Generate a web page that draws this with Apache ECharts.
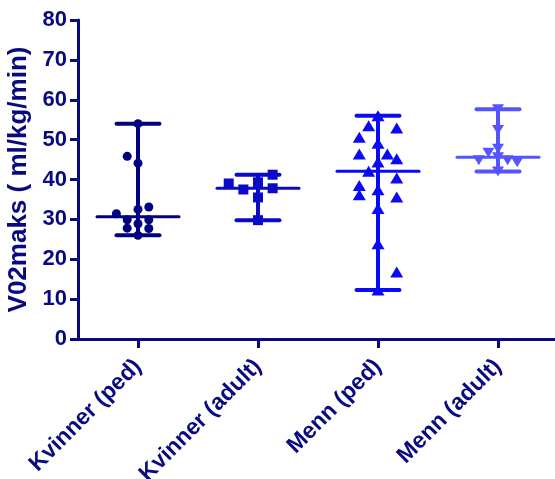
<!DOCTYPE html>
<html>
<head>
<meta charset="utf-8">
<script src="https://cdn.jsdelivr.net/npm/echarts@6/dist/echarts.min.js"></script>
<style>html,body{margin:0;padding:0;background:#fff}#c{width:555px;height:479px}</style>
</head>
<body>
<div id="c"></div>
<script>
// ---- data ----
const categories = ['Kvinner (ped)', 'Kvinner (adult)', 'Menn (ped)', 'Menn (adult)'];
const yTicks = [0, 10, 20, 30, 40, 50, 60, 70, 80];
const yTitle = 'V02maks ( ml/kg/min)';

const kvinnerPed = [54, 45.8, 44.1, 33.1, 32.5, 31.4, 29.9, 29.9, 28.9, 27.8, 27.7, 26];
const kvinnerPedSlot = [0, -1, 0, 1, 0, -2, -1, 1, 0, -1, 1, 0];

const kvinnerAdult = [41.2, 39.3, 39.0, 37.8, 37.5, 35.5, 29.8];
const kvinnerAdultSlot = [1, 0, -2, 1, -1, 0, 0];

const mennPed = [56, 53.5, 52.9, 50.6, 49.1, 46.4, 46.4, 45.2, 44.4, 42.1, 40.4, 38.5, 37.4, 36.2, 35.6, 32.7, 23.9, 16.8, 12.3];
const mennPedSlot = [0, -1, 2, -2, 0, -2, 1, 2, 0, -1, 2, -2, 0, -2, 2, 0, 0, 2, 0];

const mennAdult = [57.6, 52.4, 47.7, 46.7, 45.6, 44.8, 44.8, 44.3, 42];
const mennAdultSlot = [0, 0, 0, -1, 0, -2, 1, 2, 0];

// ---- presentation ----
const groups = [kvinnerPed, kvinnerAdult, mennPed, mennAdult];
const slots = [kvinnerPedSlot, kvinnerAdultSlot, mennPedSlot, mennAdultSlot];
const slotWidth = [0.09, 0.122, 0.078, 0.08]; // in category units
const colors = ['#000080', '#0a0ac8', '#0a0af5', '#5555ff'];
const symbols = ['circle', 'rect', 'triangle', 'triangle'];
const symbolSizes = [9, 10, [13, 11], [12, 10]];
const rotations = [0, 0, 0, 180];
const axisColor = '#0a0a80';
const font = '"Liberation Sans", Arial, sans-serif';

function median(arr) {
  const s = arr.slice().sort((a, b) => a - b);
  const n = s.length;
  return n % 2 ? s[(n - 1) / 2] : (s[n / 2 - 1] + s[n / 2]) / 2;
}

const statData = groups.map((g, i) => [i, Math.min(...g), Math.max(...g), median(g)]);

const series = [];
series.push({
  type: 'custom',
  xAxisIndex: 1,
  yAxisIndex: 0,
  z: 2,
  data: statData,
  renderItem: function (params, api) {
    const i = api.value(0);
    const lo = api.coord([i, api.value(1)]);
    const hi = api.coord([i, api.value(2)]);
    const md = api.coord([i, api.value(3)]);
    const c = colors[params.dataIndex];
    const st = (w) => ({ stroke: c, lineWidth: w, lineCap: 'round' });
    const capHalf = 21.5, medHalf = 41;
    return {
      type: 'group',
      children: [
        { type: 'line', shape: { x1: hi[0], y1: hi[1], x2: lo[0], y2: lo[1] }, style: st(4) },
        { type: 'line', shape: { x1: hi[0] - capHalf, y1: hi[1], x2: hi[0] + capHalf, y2: hi[1] }, style: st(4) },
        { type: 'line', shape: { x1: lo[0] - capHalf, y1: lo[1], x2: lo[0] + capHalf, y2: lo[1] }, style: st(4) },
        { type: 'line', shape: { x1: md[0] - medHalf, y1: md[1], x2: md[0] + medHalf, y2: md[1] }, style: st(3) }
      ]
    };
  }
});

groups.forEach((g, i) => {
  series.push({
    type: 'scatter',
    xAxisIndex: 1,
    yAxisIndex: 0,
    z: 3,
    symbol: symbols[i],
    symbolSize: symbolSizes[i],
    symbolRotate: rotations[i],
    itemStyle: { color: colors[i], opacity: 1 },
    data: g.map((v, k) => [i + slots[i][k] * slotWidth[i], v])
  });
});

const chart = echarts.init(document.getElementById('c'), null, { renderer: 'canvas' });
chart.setOption({
  animation: false,
  backgroundColor: '#ffffff',
  grid: { left: 78, right: -3, top: 20, bottom: 140, containLabel: false, outerBoundsMode: 'none' },
  xAxis: [
    {
      type: 'category',
      data: categories,
      boundaryGap: true,
      axisLine: { show: true, onZero: false, lineStyle: { color: axisColor, width: 3 } },
      axisTick: { show: true, alignWithLabel: true, length: 9, lineStyle: { color: axisColor, width: 3 } },
      axisLabel: { rotate: 45, margin: 24, color: axisColor, fontSize: 23, fontWeight: 'bold', fontFamily: font, interval: 0 },
      splitLine: { show: false }
    },
    {
      type: 'value',
      min: -0.5,
      max: 3.5,
      show: false,
      splitLine: { show: false }
    }
  ],
  yAxis: {
    type: 'value',
    min: yTicks[0],
    max: yTicks[yTicks.length - 1],
    interval: 10,
    name: yTitle,
    nameLocation: 'middle',
    nameGap: 46,
    nameTextStyle: { color: axisColor, fontSize: 26, fontWeight: 'bold', fontFamily: font },
    axisLine: { show: true, onZero: false, lineStyle: { color: axisColor, width: 3 } },
    axisTick: { show: true, length: 8, lineStyle: { color: axisColor, width: 3 } },
    axisLabel: { margin: 11, color: axisColor, fontSize: 22, fontWeight: 'bold', fontFamily: font },
    splitLine: { show: false }
  },
  series: series
});
</script>
</body>
</html>
